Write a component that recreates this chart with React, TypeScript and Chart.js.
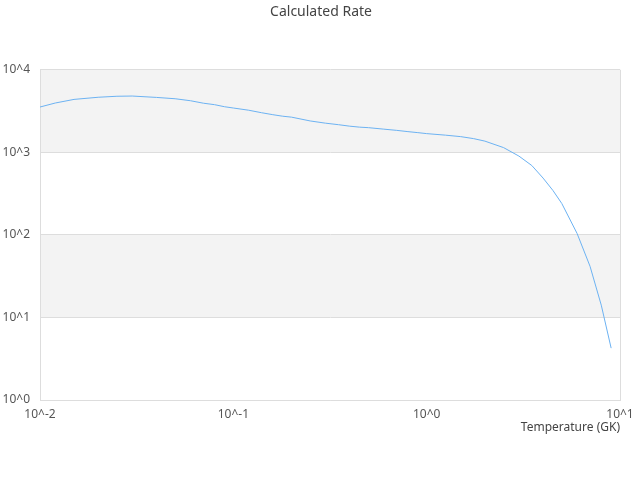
import React, { useEffect, useRef } from "react";
import { Chart, registerables } from "chart.js";

Chart.register(...registerables);

const temperatures = [
  0.01, 0.012, 0.015, 0.02, 0.025, 0.03, 0.04, 0.05, 0.06, 0.07, 0.08, 0.09, 0.1,
  0.12, 0.14, 0.16, 0.18, 0.2, 0.25, 0.3, 0.35, 0.4, 0.45, 0.5, 0.6, 0.7, 0.8,
  0.9, 1.0, 1.25, 1.5, 1.75, 2.0, 2.5, 3.0, 3.5, 4.0, 4.5, 5.0, 6.0, 7.0, 8.0, 9.0,
];
const rates = [
  3540, 3960, 4380, 4650, 4780, 4810, 4630, 4460, 4220, 3940, 3780, 3570, 3445,
  3240, 3020, 2860, 2740, 2670, 2400, 2256, 2163, 2075, 2020, 1991, 1910, 1846, 1782,
  1733, 1686, 1616, 1550, 1466, 1368, 1141, 901, 692, 488, 345, 240, 104, 41.6, 14.1, 4.25,
];
const xTickValues = [0.01, 0.1, 1, 10];
const yTickValues = [1, 10, 100, 1000, 10000];
const chartTitle = "Calculated Rate";
const xAxisTitle = "Temperature (GK)";

const FONT = "'Noto Sans', sans-serif";

const bandPlugin = {
  id: "bands",
  beforeDraw(chart: any) {
    const { ctx, chartArea, scales } = chart;
    const y = scales.y;
    ctx.save();
    ctx.fillStyle = "#f3f3f3";
    const ticks = [...yTickValues].sort((a, b) => b - a);
    for (let i = 0; i < ticks.length - 1; i += 2) {
      const top = y.getPixelForValue(ticks[i]);
      const bottom = y.getPixelForValue(ticks[i + 1]);
      ctx.fillRect(chartArea.left, top, chartArea.right - chartArea.left, bottom - top);
    }
    ctx.restore();
  },
};

function sup(v: number) {
  return "10^" + Math.round(Math.log10(v));
}

export default function App() {
  const ref = useRef<HTMLCanvasElement>(null);
  useEffect(() => {
    document.body.style.margin = "0";
    const chart = new Chart(ref.current!, {
      type: "line",
      data: {
        datasets: [
          {
            data: temperatures.map((t, i) => ({ x: t, y: rates[i] })),
            borderColor: "#6cb2f2",
            borderWidth: 1,
            pointRadius: 0,
            fill: false,
            tension: 0,
          },
        ],
      },
      options: {
        animation: false,
        responsive: false,
        devicePixelRatio: 1,
        layout: { padding: { left: 2, right: 0, top: 0, bottom: 45 } },
        plugins: {
          legend: { display: false },
          tooltip: { enabled: false },
          title: {
            display: true,
            text: chartTitle,
            color: "#444",
            font: { family: FONT, size: 14, weight: "normal" },
            padding: { top: 4, bottom: 49 },
          },
        },
        scales: {
          x: {
            type: "logarithmic",
            min: 0.01,
            max: 10,
            afterBuildTicks(axis: any) {
              axis.ticks = xTickValues.map((v) => ({ value: v }));
            },
            afterFit(axis: any) {
              axis.height = 35;
              axis.paddingRight = 20;
            },
            ticks: {
              color: "#555",
              font: { family: FONT, size: 12 },
              maxRotation: 0,
              padding: 7,
              callback: (v: any) => sup(Number(v)),
            },
            grid: {
              drawTicks: false,
              color: (c: any) =>
                c.index === xTickValues.length - 1 ? "#dddddd" : "rgba(0,0,0,0)",
            },
            border: { display: true, color: "#dddddd" },
            title: {
              display: true,
              text: xAxisTitle,
              align: "end",
              color: "#444",
              font: { family: FONT, size: 12 },
              padding: { top: 0, bottom: 0 },
            },
          },
          y: {
            type: "logarithmic",
            min: 1,
            max: 10000,
            afterBuildTicks(axis: any) {
              axis.ticks = yTickValues.map((v) => ({ value: v }));
            },
            afterFit(axis: any) {
              axis.width = 38;
            },
            ticks: {
              color: "#555",
              font: { family: FONT, size: 12 },
              padding: 10,
              callback: (v: any) => sup(Number(v)),
            },
            grid: { drawTicks: false, color: "#dddddd" },
            border: { display: true, color: "#dddddd" },
          },
        },
      },
      plugins: [bandPlugin],
    } as any);
    return () => chart.destroy();
  }, []);
  return <canvas ref={ref} width={640} height={480} style={{ display: "block" }} />;
}
